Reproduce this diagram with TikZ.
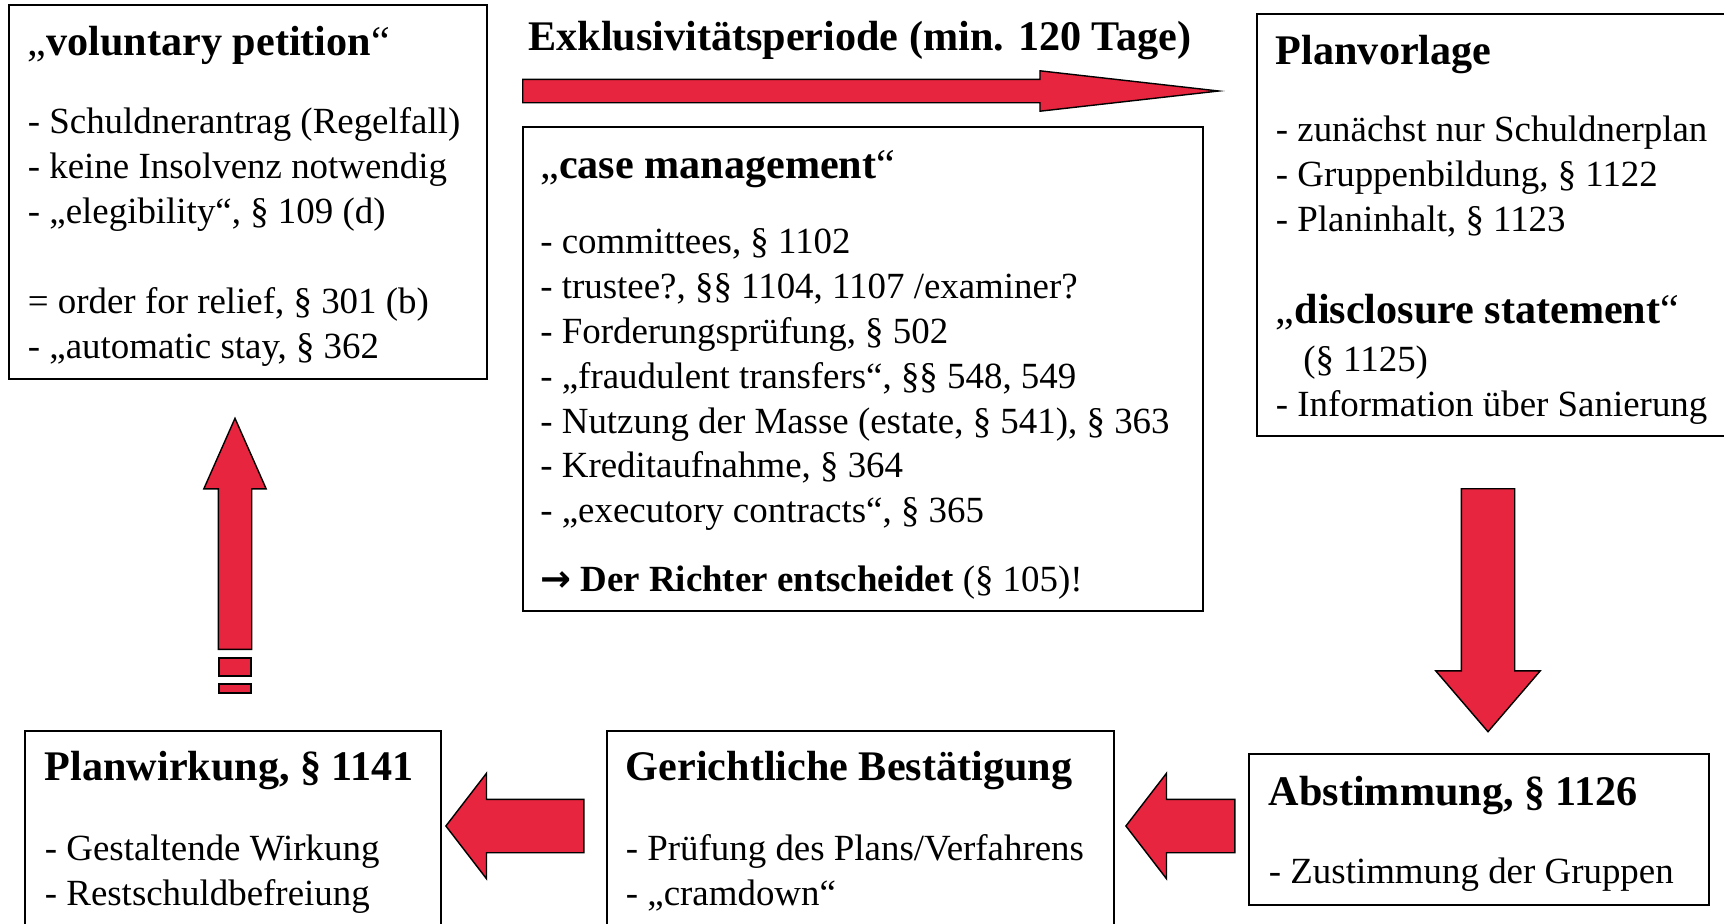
\documentclass[tikz,border=0pt]{standalone}
\usepackage{fontspec}
\setmainfont{Liberation Serif}
\newfontfamily\symfont{DejaVu Sans}
\usetikzlibrary{shapes.arrows, positioning}
\definecolor{pptred}{RGB}{232,37,62}
\newcommand{\hd}[1]{{\fontsize{24}{25.5}\selectfont #1}}
\newcommand{\topgap}[1]{\rule{0pt}{#1}}
\newcommand{\botgap}[1]{\rule[-#1]{0pt}{0pt}}

\begin{document}
\begin{tikzpicture}

	\tikzstyle{panel}=[rectangle, draw, line width=1pt, anchor=north west, align=flush left, inner xsep=0.38cm, inner ysep=0pt, font=\fontsize{21}{25.5}\selectfont]
	\tikzstyle{fatarrow}=[single arrow, draw=black, line width=0.8pt, fill=pptred, inner xsep=0pt]
	\tikzstyle{stub}=[rectangle, draw=black, line width=0.8pt, fill=pptred, inner sep=0pt, minimum width=0.64cm]

	\useasboundingbox (0,0) rectangle (34.48,-18.46);

	% die Kaesten
	\node[panel, text width=8.8cm] (volpet) at (0.16,-0.08) {\topgap{29pt}\hd{„\textbf{voluntary petition}“}\\[18.9pt]
		- Schuldnerantrag (Regelfall)\\
		- keine Insolvenz notwendig\\
		- „elegibility“, § 109 (d)\\[25.7pt]
		= order for relief, § 301 (b)\\
		- „automatic stay, § 362\botgap{12pt}};
	\node[panel, text width=12.9cm, inner xsep=0.35cm] (casemgmt) at (10.44,-2.52) {\topgap{29.6pt}\hd{„\textbf{case management}“}\\[17.2pt]
		- committees, § 1102\\
		- trustee?, §§ 1104, 1107 /examiner?\\
		- Forderungsprüfung, § 502\\
		- „fraudulent transfers“, §§ 548, 549\\
		- Nutzung der Masse (estate, § 541), § 363\\
		- Kreditaufnahme, § 364\\
		- „executory contracts“, § 365\\[13.8pt]
		{\symfont\bfseries →} \textbf{Der Richter entscheidet} (§ 105)!\botgap{10.8pt}};
	\node[panel, text width=8.84cm] (planvorl) at (25.12,-0.26) {\topgap{29pt}\hd{\textbf{Planvorlage}}\\[18.3pt]
		- zunächst nur Schuldnerplan\\
		- Gruppenbildung, § 1122\\
		- Planinhalt, § 1123\\[26.8pt]
		\hd{„\textbf{disclosure statement}“}\\[1.8pt]
		\hspace*{15.6pt}(§ 1125)\\
		- Information über Sanierung\botgap{11.4pt}};
	\node[panel, text width=8.4cm, inner xsep=0.4cm] (abst) at (24.96,-15.06) {\topgap{29.6pt}\hd{\textbf{Abstimmung, § 1126}}\\[18.9pt]
		- Zustimmung der Gruppen\botgap{12pt}};
	\node[panel, text width=9.38cm] (bestaet) at (12.12,-14.6) {\topgap{28.5pt}\hd{\textbf{Gerichtliche Bestätigung}}\\[20pt]
		- Prüfung des Plans/Verfahrens\\
		- „cramdown“\botgap{25pt}};
	\node[panel, text width=7.52cm, inner xsep=0.4cm] (wirkung) at (0.48,-14.6) {\topgap{28.5pt}\hd{\textbf{Planwirkung, § 1141}}\\[20pt]
		- Gestaltende Wirkung\\
		- Restschuldbefreiung\botgap{25pt}};

	% die Pfeile
	\node[anchor=base west, inner sep=0pt, font=\fontsize{24}{25.5}\selectfont\bfseries] (exkl) at (10.56,-1.0) {Exklusivitätsperiode (min. 120 Tage)};
	\node[fatarrow, inner ysep=0.22cm, minimum height=13.92cm, single arrow head extend=0.17cm, single arrow tip angle=12.9, anchor=tail] (exklpfeil) at (10.44,-1.82) {};
	\node[fatarrow, rotate=-90, inner ysep=0.52cm, minimum height=4.86cm, single arrow head extend=0.51cm, single arrow tip angle=81.3, anchor=tail] (planpfeil) at (29.76,-9.76) {};
	\node[fatarrow, rotate=180, inner ysep=0.52cm, minimum height=2.18cm, single arrow head extend=0.52cm, single arrow tip angle=104.8, anchor=tip] (abstpfeil) at (22.5,-16.52) {};
	\node[fatarrow, rotate=180, inner ysep=0.52cm, minimum height=2.76cm, single arrow head extend=0.52cm, single arrow tip angle=104.8, anchor=tip] (bestpfeil) at (8.9,-16.52) {};
	\node[fatarrow, rotate=90, inner ysep=0.32cm, minimum height=4.62cm, single arrow head extend=0.29cm, single arrow tip angle=47.7, anchor=tail] (wirkpfeil) at (4.7,-13.0) {};
	\node[stub, minimum height=0.36cm] (stubA) at (4.7,-13.34) {};
	\node[stub, minimum height=0.18cm] (stubB) at (4.7,-13.77) {};

\end{tikzpicture}
\end{document}
